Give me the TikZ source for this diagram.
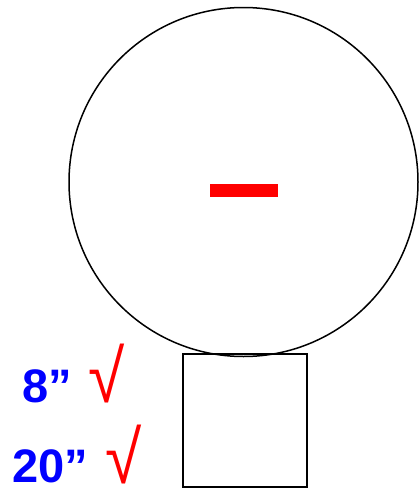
\documentclass[tikz,border=0pt]{standalone}
\usepackage{fontspec}
\usepackage{graphicx}
\setmainfont{Liberation Sans}
\newfontfamily\chkfont{Liberation Sans}
\newcommand{\tallchk}{\scalebox{1.0}[1.12]{√}}
\begin{document}
\begin{tikzpicture}[x=1pt,y=-1pt,
  lbl/.style={anchor=base west, inner sep=0pt, text depth=0pt, text={rgb,255:red,0;green,0;blue,255}, font=\bfseries\fontsize{47}{47}\selectfont},
  chk/.style={anchor=base west, inner sep=0pt, text depth=0pt, text={rgb,255:red,255;green,0;blue,0}, font=\chkfont\fontsize{66}{66}\selectfont}]
\useasboundingbox (0,0) rectangle (419,490);
\node[circle, draw, line width=1.5pt, minimum size=349pt, inner sep=0pt] (c) at (243.5,182) {};
\node[fill={rgb,255:red,255;green,0;blue,0}, minimum width=68pt, minimum height=12.5pt, inner sep=0pt] (bar) at (243.8,190.3) {};
\node[draw, line width=2pt, minimum width=124pt, minimum height=133pt, inner sep=0pt] (sq) at (244.7,420.5) {};
\node[lbl] (t8) at (22,402.7) {8”};
\node[lbl] (t20) at (12,482) {20”};
\node[chk] (c8) at (88,402.5) {\tallchk};
\node[chk] (c20) at (105.5,483) {\tallchk};
\end{tikzpicture}
\end{document}
